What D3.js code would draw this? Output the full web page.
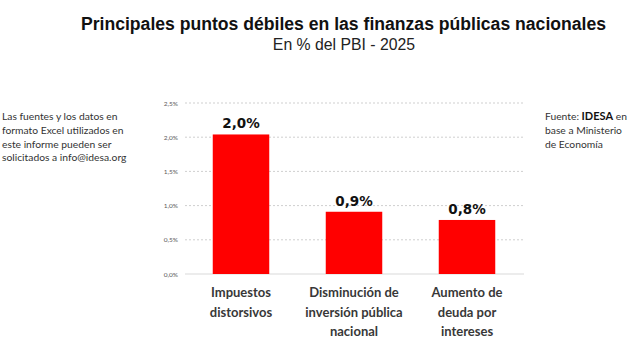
<!DOCTYPE html>
<html><head><meta charset="utf-8">
<script src="https://cdn.jsdelivr.net/npm/d3@7"></script>
<style>body{margin:0;background:#fff}svg{display:block}</style>
</head><body>
<svg id="c" width="640" height="361"></svg>
<script>
const categories = [["Impuestos","distorsivos"],["Disminución de","inversión pública","nacional"],["Aumento de","deuda por","intereses"]];
const values = [2.04, 0.91, 0.79];
const valueLabels = ["2,0%","0,9%","0,8%"];
const yTicks = [0, 0.5, 1.0, 1.5, 2.0, 2.5];
const title = "Principales puntos débiles en las finanzas públicas nacionales";
const subtitle = "En % del PBI - 2025";
const leftNote = ["Las fuentes y los datos en","formato Excel utilizados en","este informe pueden ser","solicitados a info@idesa.org"];

const svg = d3.select("#c");
const x = d3.scaleBand().domain(d3.range(values.length)).range([184.5, 523.5]).paddingInner(0.5).paddingOuter(0.25);
const y = d3.scaleLinear().domain([0, 2.5]).range([274, 103]);

svg.append("text").attr("x", 343.5).attr("y", 30).attr("text-anchor","middle")
  .attr("font-family","Liberation Sans, Arial, sans-serif").attr("font-weight","bold").attr("font-size",17.6).attr("fill","#111").text(title);
svg.append("text").attr("x", 344).attr("y", 50).attr("text-anchor","middle")
  .attr("font-family","Liberation Sans, Arial, sans-serif").attr("font-size",15.8).attr("fill","#222").text(subtitle);

// grid
const g = svg.append("g");
g.selectAll("line.grid").data(yTicks).join("line")
  .attr("x1",185).attr("x2",524).attr("y1",d=>y(d)).attr("y2",d=>y(d))
  .attr("stroke", d=> d===0 ? "#d9d9d9" : "#cfcfcf")
  .attr("stroke-dasharray", d=> d===0 ? null : "2,2").attr("stroke-width",1);

const yAxis = d3.axisLeft(y).tickValues(yTicks).tickSize(0).tickPadding(0)
  .tickFormat(d => d3.format(".1f")(d).replace(".",",") + "%");
svg.append("g").attr("transform","translate(178,0)").call(yAxis)
  .call(s=>s.select(".domain").remove())
  .call(s=>s.selectAll("text").attr("font-family","Lato, sans-serif").attr("font-size",6.5).attr("fill","#595959"));

svg.selectAll("rect.bar").data(values).join("rect")
  .attr("x",(d,i)=>x(i)).attr("width",x.bandwidth())
  .attr("y",d=>y(d)).attr("height",d=>y(0)-y(d)).attr("fill","#ff0000");

svg.selectAll("text.vl").data(values).join("text")
  .attr("x",(d,i)=>x(i)+x.bandwidth()/2).attr("y",d=>y(d)-6).attr("text-anchor","middle")
  .attr("font-family","DejaVu Sans, sans-serif").attr("font-weight","bold").attr("font-size",13.5).attr("fill","#111")
  .text((d,i)=>valueLabels[i]);

const cat = svg.selectAll("text.cat").data(categories).join("text")
  .attr("text-anchor","middle").attr("font-family","Lato, sans-serif").attr("font-weight","bold")
  .attr("font-size",13).attr("fill","#383838");
cat.each(function(lines,i){
  d3.select(this).selectAll("tspan").data(lines).join("tspan")
    .attr("x", x(i)+x.bandwidth()/2).attr("y",(l,j)=>297+j*19.5).text(l=>l);
});

const ln = svg.append("text").attr("font-family","Lato, sans-serif").attr("font-size",10.3).attr("fill","#333");
ln.selectAll("tspan").data(leftNote).join("tspan").attr("x",2).attr("y",(d,i)=>120+i*13.8).text(d=>d);

const rn = svg.append("text").attr("font-family","Lato, sans-serif").attr("font-size",10.3).attr("fill","#333");
const r1 = rn.append("tspan").attr("x",545).attr("y",120);
r1.append("tspan").text("Fuente: ");
r1.append("tspan").attr("font-weight","bold").attr("font-size",11).attr("fill","#111").text("IDESA");
r1.append("tspan").text(" en");
rn.append("tspan").attr("x",545).attr("y",134).text("base a Ministerio");
rn.append("tspan").attr("x",545).attr("y",148).text("de Economía");
</script>
</body></html>
